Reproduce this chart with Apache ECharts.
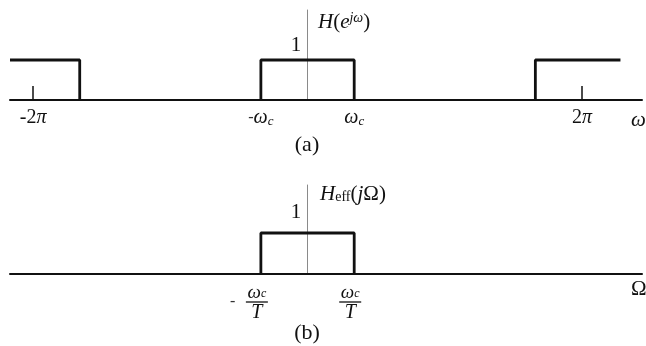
<!DOCTYPE html>
<html>
<head>
<meta charset="utf-8">
<script src="https://cdn.jsdelivr.net/npm/echarts@6/dist/echarts.min.js"></script>
<style>
  html, body { margin: 0; padding: 0; background: #fff; }
  #chart { width: 646px; height: 346px; }
</style>
</head>
<body>
<div id="chart"></div>
<script>
// Frequency axis is measured in units of π (rad/sample for ω, rad/s·T for Ω).
const axisSpan = [-2.168, 2.437];

// (a) periodic ideal lowpass H(e^{jω}); null separates the passband copies
const aOmega = [-2.168, -1.66, -1.66, null, -0.34, -0.34, 0.34, 0.34, null, 1.66, 1.66, 2.28];
const aGain  = [1, 1, 0, null, 0, 1, 1, 0, null, 0, 1, 1];
const aTickValues  = [-2, 2];
const aLabelValues = [-2, -0.34, 0.34, 2];
const aLabelText   = ['{n|-2}{i|π}', '{m|-}{i|ω}{s|c}', '{i|ω}{s|c}', '{n|2}{i|π}'];

// (b) effective continuous-time response H_eff(jΩ)
const bOmega = [-0.34, -0.34, 0.34, 0.34];
const bGain  = [0, 1, 1, 0];
const bLabelValues = [-0.34, 0.34];
const bLabelText   = ['{fi|ω}{fs|c}\n{mn|-}{bar| }{gap| }\n{t|T}', '{fi|ω}{fs|c}\n{bar| }\n{t|T}'];

const serif = '"Liberation Serif", "DejaVu Serif", serif';

// split a null-separated polyline into separate pieces
function pieces(xs, ys) {
  const out = [];
  let cur = [];
  xs.forEach((x, k) => {
    if (x === null) { if (cur.length) out.push(cur); cur = []; }
    else cur.push([x, ys[k]]);
  });
  if (cur.length) out.push(cur);
  return out;
}

function labelFor(values, texts) {
  return v => {
    let best = 0;
    values.forEach((u, k) => { if (Math.abs(u - v) < Math.abs(values[best] - v)) best = k; });
    return texts[best];
  };
}

const labelRich = {
  n:   { fontFamily: serif, fontSize: 20, color: '#111', lineHeight: 20 },
  m:   { fontFamily: serif, fontSize: 16, color: '#333', lineHeight: 20 },
  i:   { fontFamily: serif, fontSize: 20, fontStyle: 'italic', color: '#111', lineHeight: 20 },
  s:   { fontFamily: serif, fontSize: 13, fontStyle: 'italic', color: '#111', lineHeight: 12, verticalAlign: 'bottom' },
  // stacked fraction pieces
  fi:  { fontFamily: serif, fontSize: 19, fontStyle: 'italic', color: '#111', lineHeight: 14 },
  fs:  { fontFamily: serif, fontSize: 12, fontStyle: 'italic', color: '#111', lineHeight: 9, verticalAlign: 'bottom' },
  t:   { fontFamily: serif, fontSize: 20, fontStyle: 'italic', color: '#111', lineHeight: 18 },
  bar: { width: 22, height: 1.4, backgroundColor: '#222', lineHeight: 4, fontSize: 1 },
  mn:  { fontFamily: serif, fontSize: 16, color: '#333', width: 16, align: 'left', lineHeight: 4 },
  gap: { width: 16, fontSize: 1, lineHeight: 4 }
};

function xAxisFor(gridIndex, tickValues, labelValues, labelTexts, margin, padRight) {
  return {
    type: 'value', gridIndex, min: axisSpan[0], max: axisSpan[1],
    axisLine: { show: true, onZero: false, lineStyle: { color: '#111', width: 2 } },
    axisTick: tickValues.length
      ? { show: true, inside: true, length: 14, customValues: tickValues, lineStyle: { color: '#111', width: 1.5 } }
      : { show: false },
    axisLabel: {
      show: true, customValues: labelValues, margin, padding: [0, padRight, 0, 0],
      formatter: labelFor(labelValues, labelTexts), rich: labelRich, color: '#111'
    },
    splitLine: { show: false }
  };
}

function yAxisFor(gridIndex, max) {
  return {
    type: 'value', gridIndex, min: 0, max,
    axisLine: { show: true, onZero: true, lineStyle: { color: '#8a8a8a', width: 1 } },
    axisTick: { show: false }, axisLabel: { show: false }, splitLine: { show: false }
  };
}

const series = [];
pieces(aOmega, aGain).forEach(p => series.push({
  type: 'line', xAxisIndex: 0, yAxisIndex: 0, data: p, showSymbol: false,
  lineStyle: { color: '#111', width: 2.8 }, animation: false, silent: true
}));
pieces(bOmega, bGain).forEach(p => series.push({
  type: 'line', xAxisIndex: 1, yAxisIndex: 1, data: p, showSymbol: false,
  lineStyle: { color: '#111', width: 2.8 }, animation: false, silent: true
}));

function txt(x, y, text, rich, align) {
  return {
    type: 'text', x, y, silent: true,
    style: { text, rich, align: align || 'left', verticalAlign: 'middle', fill: '#111' }
  };
}

const gRich = {
  r:   { fontFamily: serif, fontSize: 21, fill: '#111', color: '#111' },
  i:   { fontFamily: serif, fontSize: 21, fontStyle: 'italic', fill: '#111', color: '#111' },
  sup: { fontFamily: serif, fontSize: 14, fontStyle: 'italic', fill: '#111', color: '#111', verticalAlign: 'top', lineHeight: 12 },
  sub: { fontFamily: serif, fontSize: 14, fill: '#111', color: '#111', verticalAlign: 'bottom', lineHeight: 12 },
  big: { fontFamily: serif, fontSize: 22, fill: '#111', color: '#111' }
};

const chart = echarts.init(document.getElementById('chart'), null, { renderer: 'canvas' });
chart.setOption({
  backgroundColor: '#fff',
  animation: false,
  grid: [
    { left: 10, right: 4, top: 10, height: 90 },
    { left: 10, right: 4, top: 185, height: 89 }
  ],
  xAxis: [
    xAxisFor(0, aTickValues, aLabelValues, aLabelText, 8, 0),
    xAxisFor(1, [], bLabelValues, bLabelText, 12, 8)
  ],
  yAxis: [yAxisFor(0, 2.25), yAxisFor(1, 2.17)],
  series,
  graphic: [
    txt(318, 22, '{i|H}{r|(}{i|e}{sup|jω}{r|)}', gRich),
    txt(296, 45, '{r|1}', gRich, 'center'),
    txt(307, 145, '{big|(a)}', gRich, 'center'),
    txt(631, 120, '{i|ω}', gRich),
    txt(320, 194, '{i|H}{sub|eff}{r|(}{i|j}{r|Ω)}', gRich),
    txt(296, 212, '{r|1}', gRich, 'center'),
    txt(307, 333, '{big|(b)}', gRich, 'center'),
    txt(631, 289, '{r|Ω}', gRich)
  ]
});
</script>
</body>
</html>
